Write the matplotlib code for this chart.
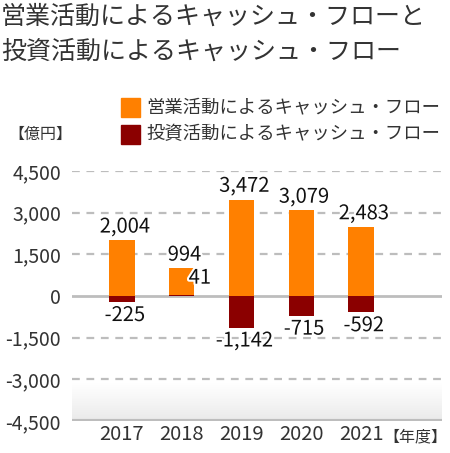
import numpy as np
import matplotlib
matplotlib.use("Agg")
import matplotlib.pyplot as plt
import matplotlib.patheffects as pe
from matplotlib.patches import Rectangle
from matplotlib.colors import LinearSegmentedColormap

plt.rcParams['font.family'] = ['Noto Sans CJK JP', 'DejaVu Sans']

years = ['2017', '2018', '2019', '2020', '2021']
operating_cf = [2004, 994, 3472, 3079, 2483]
investing_cf = [-225, 41, -1142, -715, -592]
yticks = [4500, 3000, 1500, 0, -1500, -3000, -4500]
title_lines = ['営業活動によるキャッシュ・フローと', '投資活動によるキャッシュ・フロー']
legend_labels = ['営業活動によるキャッシュ・フロー', '投資活動によるキャッシュ・フロー']
unit_label = '【億円】'
year_suffix = '【年度】'

c_op = '#FF8000'
c_inv = '#8B0000'
grid_c = '#BDBDBD'
text_c = '#333333'

fig = plt.figure(figsize=(4.5, 4.53), dpi=100)
W, H = 450, 453
def fx(px): return px / W
def fy(py): return 1 - py / H

ax = fig.add_axes([fx(72), fy(421), fx(442) - fx(72), fy(171) - fy(421)])
x = np.arange(len(years))
xl = (-0.837, 5.356)

# gradient shading at bottom
grad = np.linspace(0, 1, 100).reshape(-1, 1)
cmap = LinearSegmentedColormap.from_list('g', ['#EAEAEA', '#FFFFFF'])
ax.imshow(grad, extent=[xl[0], xl[1], -4500, -3150], origin='lower', cmap=cmap,
          aspect='auto', zorder=0)
ax.set_xlim(*xl)
ax.set_ylim(-4500, 4500)

for v in yticks:
    if v == 0:
        ax.axhline(v, color=grid_c, lw=2.0, zorder=1)
    elif v == -4500:
        ax.axhline(v, color=grid_c, lw=3.0, zorder=1)
    else:
        ax.axhline(v, color=grid_c, lw=1.6, ls=(0, (3.5, 3)), zorder=1)

bw = 0.42
ax.bar(x, operating_cf, width=bw, color=c_op, zorder=3)
ax.bar(x, investing_cf, width=bw, color=c_inv, zorder=4)

stroke = [pe.withStroke(linewidth=3, foreground='white')]
for i, (o, v) in enumerate(zip(operating_cf, investing_cf)):
    ax.annotate(f'{o:,}', (x[i], o), xytext=(2, 2), textcoords='offset points',
                ha='center', va='bottom', fontsize=14.5, color='#111111',
                path_effects=stroke, zorder=6)
    if v < 0:
        ax.annotate(f'{v:,}', (x[i], v), xytext=(2, -2), textcoords='offset points',
                    ha='center', va='top', fontsize=14.5, color='#111111',
                    path_effects=stroke, zorder=6)
    else:
        ax.annotate(f'{v:,}', (x[i], v), xytext=(13, 12), textcoords='offset points',
                    ha='center', va='center', fontsize=14.5, color='#111111',
                    path_effects=stroke, zorder=6)

for s in ax.spines.values():
    s.set_visible(False)
ax.set_yticks(yticks)
ax.set_yticklabels([f'{v:,}' for v in yticks], fontsize=14, color=text_c)
ax.tick_params(axis='y', length=0, pad=8)
ax.set_xticks(x)
ax.set_xticklabels(years, fontsize=14.5, color=text_c)
ax.tick_params(axis='x', length=0, pad=2)

fig.text(fx(383), fy(437), year_suffix, fontsize=11.5, color=text_c, ha='left', va='center')

# title
fig.text(fx(1), fy(17), title_lines[0], fontsize=18, color=text_c, ha='left', va='center')
fig.text(fx(1), fy(52), title_lines[1], fontsize=18, color=text_c, ha='left', va='center')

# legend
for j, (lab, c) in enumerate(zip(legend_labels, [c_op, c_inv])):
    yc = 107 + j * 27
    fig.patches.append(Rectangle((fx(121), fy(yc + 10)), fx(19), fy(0) - fy(19),
                                 transform=fig.transFigure, color=c))
    fig.text(fx(146), fy(yc), lab, fontsize=13.2, color=text_c, ha='left', va='center')

fig.text(fx(8), fy(134), unit_label, fontsize=11.5, color=text_c, ha='left', va='center')

fig.savefig('out.png', dpi=100)
